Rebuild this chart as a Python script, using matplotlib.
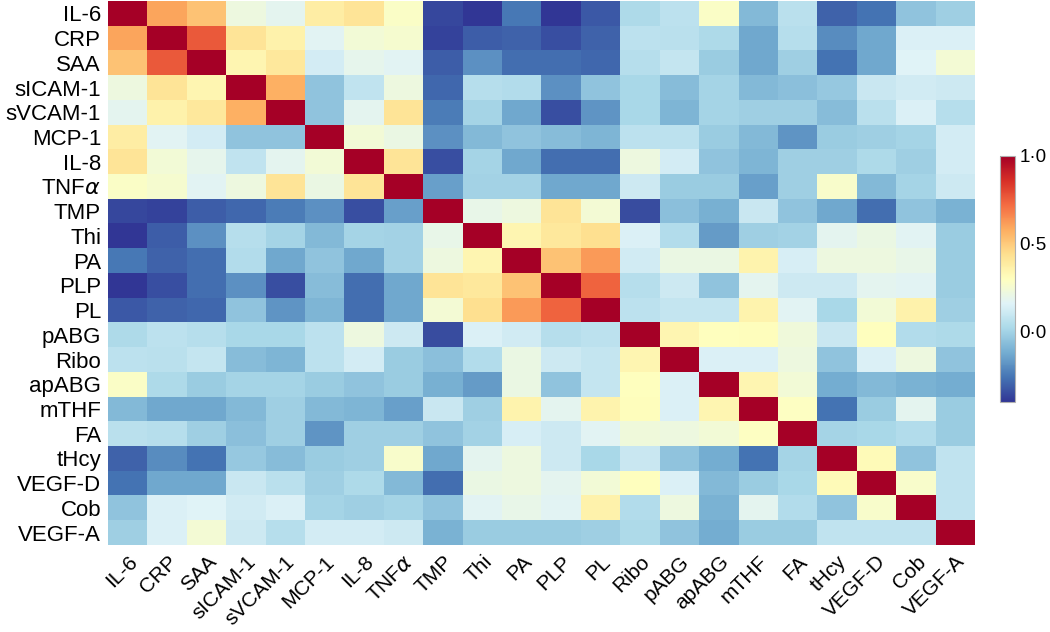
import numpy as np
import matplotlib
matplotlib.use("Agg")
import matplotlib.pyplot as plt

plt.rcParams['font.family'] = ['Liberation Sans', 'DejaVu Sans']

col_labels = ["IL-6", "CRP", "SAA", "sICAM-1", "sVCAM-1", "MCP-1", "IL-8", "TNF$\\alpha$",
              "TMP", "Thi", "PA", "PLP", "PL", "Ribo", "pABG", "apABG", "mTHF", "FA",
              "tHcy", "VEGF-D", "Cob", "VEGF-A"]
row_labels = ["IL-6", "CRP", "SAA", "sICAM-1", "sVCAM-1", "MCP-1", "IL-8", "TNF$\\alpha$",
              "TMP", "Thi", "PA", "PLP", "PL", "pABG", "Ribo", "apABG", "mTHF", "FA",
              "tHcy", "VEGF-D", "Cob", "VEGF-A"]

# lower triangle of the correlation matrix (row i, columns 0..i)
r00 = [1]
r01 = [0.60, 1]
r02 = [0.52, 0.76, 1]
r03 = [0.22, 0.42, 0.34, 1]
r04 = [0.18, 0.36, 0.40, 0.57, 1]
r05 = [0.38, 0.17, 0.13, -0.05, -0.05, 1]
r06 = [0.42, 0.24, 0.19, 0.08, 0.18, 0.24, 1]
r07 = [0.28, 0.26, 0.17, 0.22, 0.42, 0.21, 0.42, 1]
r08 = [-0.36, -0.37, -0.31, -0.29, -0.24, -0.19, -0.34, -0.15, 1]
r09 = [-0.40, -0.31, -0.19, 0.05, 0.01, -0.08, 0.01, 0.00, 0.20, 1]
r10 = [-0.25, -0.30, -0.27, 0.04, -0.13, -0.05, -0.13, 0.00, 0.22, 0.34, 1]
r11 = [-0.40, -0.34, -0.27, -0.19, -0.34, -0.07, -0.27, -0.13, 0.42, 0.40, 0.52, 1]
r12 = [-0.32, -0.30, -0.29, -0.05, -0.18, -0.09, -0.27, -0.13, 0.25, 0.44, 0.62, 0.74, 1]
r13 = [0.03, 0.07, 0.05, 0.02, 0.02, 0.07, 0.22, 0.11, -0.35, 0.15, 0.12, 0.05, 0.07, 1]
r14 = [0.07, 0.06, 0.09, -0.07, -0.09, 0.07, 0.13, -0.02, -0.06, 0.04, 0.21, 0.11, 0.09, 0.34, 1]
r15 = [0.28, 0.03, -0.02, 0.01, 0.01, -0.02, -0.05, -0.02, -0.11, -0.16, 0.21, -0.05, 0.09, 0.30,
       0.15, 1]
r16 = [-0.08, -0.13, -0.13, -0.08, -0.01, -0.08, -0.09, -0.15, 0.10, -0.01, 0.35, 0.18, 0.35, 0.31,
       0.15, 0.34, 1]
r17 = [0.06, 0.05, -0.01, -0.06, -0.01, -0.18, -0.01, -0.01, -0.05, 0.00, 0.14, 0.11, 0.17, 0.23,
       0.22, 0.24, 0.29, 1]
r18 = [-0.30, -0.20, -0.26, -0.03, -0.07, -0.02, -0.01, 0.27, -0.13, 0.18, 0.22, 0.11, 0.02, 0.10,
       -0.05, -0.12, -0.26, 0.01, 1]
r19 = [-0.26, -0.13, -0.13, 0.10, 0.06, -0.01, 0.03, -0.08, -0.27, 0.21, 0.22, 0.18, 0.24, 0.30,
       0.15, -0.08, -0.02, 0.02, 0.32, 1]
r20 = [-0.05, 0.15, 0.16, 0.12, 0.15, 0.01, -0.01, 0.01, -0.05, 0.17, 0.20, 0.17, 0.36, 0.04,
       0.22, -0.10, 0.18, 0.04, -0.05, 0.27, 1]
r21 = [-0.01, 0.15, 0.25, 0.11, 0.05, 0.13, 0.13, 0.11, -0.10, -0.02, -0.02, -0.02, -0.01, 0.03,
       -0.05, -0.12, -0.02, -0.02, 0.08, 0.08, 0.08, 1]

lower_rows = [r00, r01, r02, r03, r04, r05, r06, r07, r08, r09, r10, r11, r12, r13, r14, r15,
              r16, r17, r18, r19, r20, r21]

n = len(lower_rows)
M = np.zeros((n, n))
for i, row in enumerate(lower_rows):
    for j, v in enumerate(row):
        M[i, j] = v
        M[j, i] = v

cbar_ticks = [0.0, 0.5, 1.0]
cbar_ticklabels = ["0\u00b70", "0\u00b75", "1\u00b70"]

fig = plt.figure(figsize=(10.5, 6.32), dpi=100)
ax = fig.add_axes([108 / 1050, 1 - 545 / 632, 867 / 1050, 544 / 632])
im = ax.imshow(M, cmap="RdYlBu_r", vmin=-0.4, vmax=1.0, aspect="auto", interpolation="nearest")

ax.set_xticks(np.arange(n))
ax.set_yticks(np.arange(n))
ax.set_xticklabels(col_labels, rotation=45, ha="right", va="top", rotation_mode="anchor",
                   fontsize=15)
ax.set_yticklabels(row_labels, fontsize=16)
ax.tick_params(length=0, pad=5)
ax.tick_params(axis="x", pad=5)
for s in ax.spines.values():
    s.set_visible(False)

cax = fig.add_axes([1000 / 1050, 1 - 402 / 632, 15 / 1050, 246 / 632])
cb = fig.colorbar(im, cax=cax)
cb.set_ticks(cbar_ticks)
cb.set_ticklabels(cbar_ticklabels)
cb.ax.tick_params(length=0, labelsize=13.5, pad=3)
cb.outline.set_edgecolor("#b0b0b0")
cb.outline.set_linewidth(0.8)

fig.savefig("out.png", dpi=100)
